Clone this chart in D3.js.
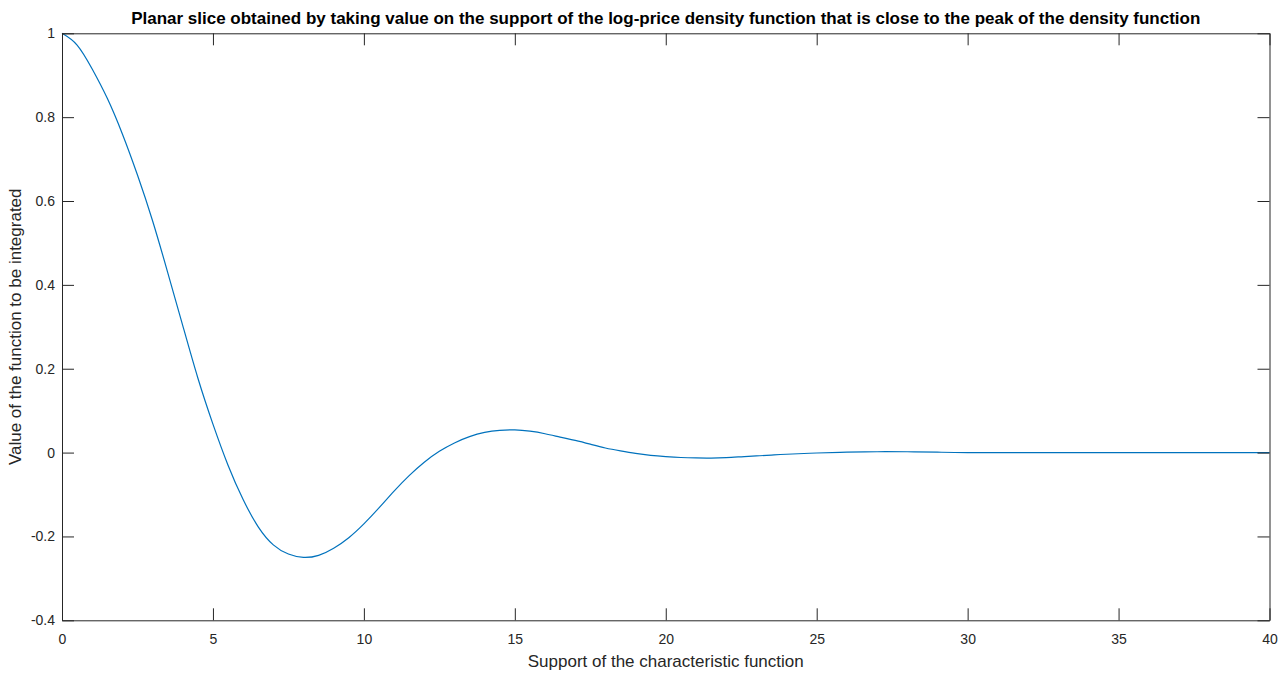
<!DOCTYPE html>
<html>
<head>
<meta charset="utf-8">
<script src="https://cdn.jsdelivr.net/npm/d3@7"></script>
<style>
  html, body { margin: 0; padding: 0; background: #fff; }
  svg { display: block; font-family: "Liberation Sans", Arial, sans-serif; }
</style>
</head>
<body>
<svg id="chart" width="1288" height="673"></svg>
<script>
// ---- data ----
const xs = [0, 0.5, 1, 1.5, 2, 2.5, 3, 3.5, 4, 4.5, 5, 5.5, 6, 6.5, 7, 7.5, 8, 8.5, 9, 9.5,
            10, 10.5, 11, 11.5, 12, 12.5, 13, 13.5, 14, 14.5, 15, 15.5, 16, 16.5, 17, 17.5,
            18, 18.5, 19, 19.5, 20, 20.5, 21, 21.5, 22, 22.5, 23, 23.5, 24, 25, 26, 27, 28,
            29, 30, 32, 34, 36, 38, 40];
const ys = [1.000, 0.972, 0.915, 0.845, 0.760, 0.662, 0.553, 0.430, 0.303, 0.178, 0.068, -0.030,
            -0.112, -0.177, -0.220, -0.242, -0.250, -0.245, -0.228, -0.203, -0.170, -0.132,
            -0.092, -0.055, -0.023, 0.003, 0.023, 0.038, 0.048, 0.053, 0.054, 0.051, 0.045,
            0.037, 0.029, 0.020, 0.011, 0.004, -0.002, -0.0065, -0.0095, -0.0117, -0.0128, -0.013,
            -0.012, -0.010, -0.008, -0.006, -0.004, -0.001, 0.001, 0.002, 0.002, 0.001, 0.000,
            0.000, 0.000, 0.000, 0.000, 0.000];
const xTicks = [0, 5, 10, 15, 20, 25, 30, 35, 40];
const yTicks = [-0.4, -0.2, 0, 0.2, 0.4, 0.6, 0.8, 1];
const yTickLabels = ["-0.4", "-0.2", "0", "0.2", "0.4", "0.6", "0.8", "1"];
const titleText = "Planar slice obtained by taking value on the support of the log-price density function that is close to the peak of the density function";
const xLabel = "Support of the characteristic function";
const yLabel = "Value of the function to be integrated";

const svg = d3.select("#chart");
const L = 62, R = 1269.5, T = 33.3, B = 620.3;
const axisColor = "#262626";
const tickLen = 12;

const x = d3.scaleLinear().domain([0, 40]).range([L, R]);
const y = d3.scaleLinear().domain([-0.4, 1]).range([B, T]);

const data = xs.map((v, i) => [v, ys[i]]);

// line
svg.append("path")
  .datum(data)
  .attr("fill", "none")
  .attr("stroke", "#0072BD")
  .attr("stroke-width", 1.2)
  .attr("d", d3.line().x(d => x(d[0])).y(d => y(d[1])).curve(d3.curveNatural));

function styleAxis(g) {
  g.selectAll("path.domain").attr("stroke", axisColor).attr("stroke-width", 1);
  g.selectAll(".tick line").attr("stroke", axisColor).attr("stroke-width", 1);
  g.selectAll(".tick text").attr("fill", axisColor).style("font-size", "14px")
    .style("font-family", "'Liberation Sans', Arial, sans-serif");
}

// bottom axis
const gx = svg.append("g").attr("transform", `translate(0,${B})`)
  .call(d3.axisBottom(x).tickValues(xTicks).tickSizeInner(-tickLen).tickSizeOuter(0).tickFormat(d3.format("d")));
styleAxis(gx);
gx.selectAll(".tick text").attr("dy", "0.32em").attr("y", 19);

// top axis (ticks only)
const gxt = svg.append("g").attr("transform", `translate(0,${T})`)
  .call(d3.axisTop(x).tickValues(xTicks).tickSizeInner(-tickLen).tickSizeOuter(0).tickFormat(""));
styleAxis(gxt);

// left axis
const gy = svg.append("g").attr("transform", `translate(${L},0)`)
  .call(d3.axisLeft(y).tickValues(yTicks).tickSizeInner(-tickLen).tickSizeOuter(0)
    .tickFormat((d, i) => yTickLabels[i]));
styleAxis(gy);
gy.selectAll(".tick text").attr("x", -7);

// right axis (ticks only)
const gyr = svg.append("g").attr("transform", `translate(${R},0)`)
  .call(d3.axisRight(y).tickValues(yTicks).tickSizeInner(-tickLen).tickSizeOuter(0).tickFormat(""));
styleAxis(gyr);

// title
svg.append("text")
  .attr("x", (L + R) / 2).attr("y", 24)
  .attr("text-anchor", "middle")
  .style("font-weight", "bold").style("font-size", "17px").attr("fill", "#000")
  .text(titleText);

// x label
svg.append("text")
  .attr("x", (L + R) / 2).attr("y", 667)
  .attr("text-anchor", "middle")
  .style("font-size", "17px").attr("fill", axisColor)
  .text(xLabel);

// y label
svg.append("text")
  .attr("transform", `translate(21,${(T + B) / 2}) rotate(-90)`)
  .attr("text-anchor", "middle")
  .style("font-size", "17px").attr("fill", axisColor)
  .text(yLabel);
</script>
</body>
</html>
